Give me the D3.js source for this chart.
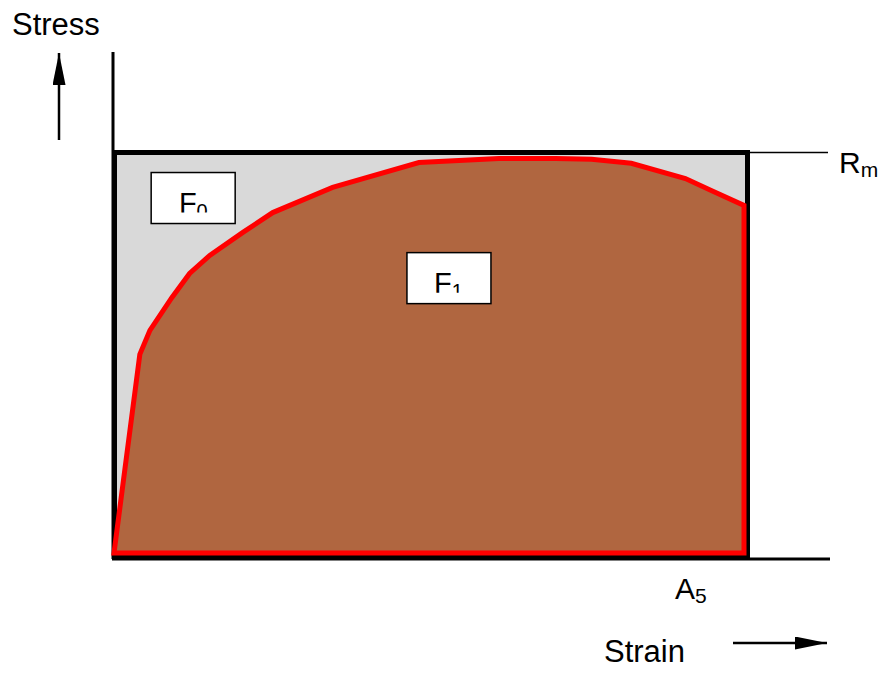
<!DOCTYPE html>
<html>
<head>
<meta charset="utf-8">
<script src="https://cdn.jsdelivr.net/npm/d3@7"></script>
<style>
  body { margin: 0; background: #fff; }
  svg { display: block; font-family: "Liberation Sans", Arial, sans-serif; }
</style>
</head>
<body>
<svg width="888" height="677"></svg>
<script>
// strain / stress, both normalised (A5 = 1, Rm = 1)
const strain = [0, 0.041, 0.057, 0.092, 0.120, 0.152, 0.204, 0.252, 0.347, 0.484, 0.611, 0.701, 0.758, 0.821, 0.907, 0.948, 1.0];
const stress = [0, 0.496, 0.556, 0.638, 0.698, 0.743, 0.800, 0.850, 0.913, 0.975, 0.985, 0.985, 0.983, 0.973, 0.935, 0.905, 0.868];
const areaLabels = ['F0', 'F1'];
const axisLabels = ['Stress', 'Strain'];
const markLabels = [['R', 'm'], ['A', '5']];

const svg = d3.select('svg');

const x = d3.scaleLinear().domain([0, 1]).range([114, 744]);
const y = d3.scaleLinear().domain([0, 1]).range([553, 152.5]);

// arrow head
svg.append('defs').append('marker')
    .attr('id', 'head')
    .attr('viewBox', '0 0 10 10')
    .attr('refX', 10).attr('refY', 5)
    .attr('markerUnits', 'userSpaceOnUse')
    .attr('markerWidth', 32).attr('markerHeight', 13)
    .attr('orient', 'auto')
    .attr('preserveAspectRatio', 'none')
  .append('path')
    .attr('d', 'M0,0L10,5L0,10Z')
    .attr('fill', '#000');

// grey rectangle up to Rm and A5
svg.append('rect')
    .attr('x', x(0) + 0.5)
    .attr('y', y(1))
    .attr('width', x(1) - x(0) + 3)
    .attr('height', y(0) - y(1) + 3)
    .attr('fill', '#d9d9d9')
    .attr('stroke', '#000')
    .attr('stroke-width', 5);

// axes
svg.append('line')
    .attr('x1', x(0) - 1).attr('x2', x(0) - 1)
    .attr('y1', 52).attr('y2', y(0) + 6)
    .attr('stroke', '#000').attr('stroke-width', 3);
svg.append('line')
    .attr('x1', x(0) - 2).attr('x2', 830)
    .attr('y1', y(0) + 6).attr('y2', y(0) + 6)
    .attr('stroke', '#000').attr('stroke-width', 3);

// Rm guide
svg.append('line')
    .attr('x1', x(1) + 5).attr('x2', 828)
    .attr('y1', y(1)).attr('y2', y(1))
    .attr('stroke', '#000').attr('stroke-width', 1.5);

// curve area
const pts = strain.map((d, i) => [d, stress[i]]);
pts.push([1, 0]);
const line = d3.line().x(d => x(d[0])).y(d => y(d[1]));
svg.append('path')
    .attr('d', line(pts) + 'Z')
    .attr('fill', '#b06640')
    .attr('stroke', '#ff0000')
    .attr('stroke-width', 5)
    .attr('stroke-linejoin', 'miter');

// F0 / F1 labels with their subscripts cut off at the frame
const boxes = [
    { sx: 0.059, sy: 0.95, tx: 0.103 },
    { sx: 0.465, sy: 0.75, tx: 0.508 }
];
areaLabels.forEach((lab, i) => {
    const b = boxes[i];
    const bx = x(b.sx), by = y(b.sy);
    svg.append('rect')
        .attr('x', bx).attr('y', by)
        .attr('width', 84).attr('height', 51)
        .attr('fill', '#fff')
        .attr('stroke', '#000').attr('stroke-width', 1.5);
    svg.append('clipPath').attr('id', 'clip' + i)
      .append('rect')
        .attr('x', bx).attr('y', by)
        .attr('width', 84).attr('height', 40);
    const t = svg.append('text')
        .attr('clip-path', 'url(#clip' + i + ')')
        .attr('x', x(b.tx)).attr('y', by + 40)
        .attr('font-size', 29);
    t.append('tspan').text(lab[0]);
    t.append('tspan').attr('font-size', 20).attr('dy', 5).text(lab[1]);
});

// axis titles and arrows
svg.append('text')
    .attr('x', 12).attr('y', 35)
    .attr('font-size', 31)
    .text(axisLabels[0]);
svg.append('line')
    .attr('x1', 59).attr('x2', 59)
    .attr('y1', 140).attr('y2', 53)
    .attr('stroke', '#000').attr('stroke-width', 2.5)
    .attr('marker-end', 'url(#head)');

svg.append('text')
    .attr('x', 604).attr('y', 662)
    .attr('font-size', 31)
    .text(axisLabels[1]);
svg.append('line')
    .attr('x1', 733).attr('x2', 827)
    .attr('y1', 643).attr('y2', 643)
    .attr('stroke', '#000').attr('stroke-width', 2.5)
    .attr('marker-end', 'url(#head)');

// Rm and A5
const rm = svg.append('text')
    .attr('x', 839).attr('y', 173)
    .attr('font-size', 30);
rm.append('tspan').text(markLabels[0][0]);
rm.append('tspan').attr('font-size', 21).attr('dy', 4).text(markLabels[0][1]);

const a5 = svg.append('text')
    .attr('x', 675).attr('y', 599)
    .attr('font-size', 30);
a5.append('tspan').text(markLabels[1][0]);
a5.append('tspan').attr('font-size', 21).attr('dy', 4).text(markLabels[1][1]);
</script>
</body>
</html>
